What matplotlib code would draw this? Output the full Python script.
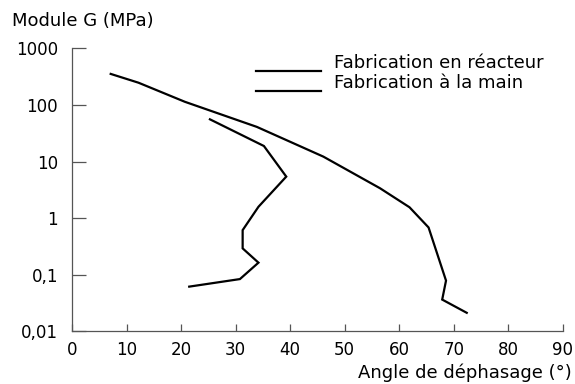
import matplotlib.pyplot as plt
from matplotlib.ticker import FixedLocator, NullLocator

plt.rcParams['font.family'] = ['DejaVu Sans']

# Fabrication en réacteur
reac_angle = [7.1, 12.2, 20.7, 33.9, 46.1, 56.5, 61.9, 65.4, 68.6, 67.9, 72.4]
reac_G = [355, 248, 114, 41, 12.2, 3.36, 1.55, 0.68, 0.078, 0.036, 0.021]

# Fabrication à la main
main_angle = [25.3, 35.2, 39.3, 34.2, 31.3, 31.3, 34.2, 30.8, 21.5]
main_G = [55.8, 18.8, 5.4, 1.58, 0.61, 0.29, 0.162, 0.083, 0.061]

yticks = [0.01, 0.1, 1, 10, 100, 1000]
ytick_labels = ['0,01', '0,1', '1', '10', '100', '1000']
xticks = [0, 10, 20, 30, 40, 50, 60, 70, 80, 90]

fs = 12
fs_txt = 13

fig = plt.figure(figsize=(5.75, 3.84), dpi=100)
ax = fig.add_axes([0.1252, 0.138, 0.8534, 0.7357])

ax.plot(reac_angle, reac_G, color='black', lw=1.6, solid_joinstyle='miter')
ax.plot(main_angle, main_G, color='black', lw=1.6, solid_joinstyle='miter')

ax.set_yscale('log')
ax.set_xlim(0, 90)
ax.set_ylim(0.01, 1000)
ax.yaxis.set_major_locator(FixedLocator(yticks))
ax.yaxis.set_minor_locator(NullLocator())
ax.set_yticklabels(ytick_labels)
ax.set_xticks(xticks)

for s in ['top', 'right']:
    ax.spines[s].set_visible(False)
for s in ['left', 'bottom']:
    ax.spines[s].set_color('#555555')
    ax.spines[s].set_linewidth(0.9)

ax.tick_params(axis='y', direction='in', length=10, width=0.9, color='#555555',
               pad=10, labelsize=fs)
ax.tick_params(axis='x', direction='in', length=5, width=0.9, color='#555555',
               pad=7, labelsize=fs)

# legend drawn by hand: short line on the baseline, text to the right
leg_items = ['Fabrication en réacteur', 'Fabrication à la main']
for i, lab in enumerate(leg_items):
    y = 0.92 - i * 0.07
    ax.plot([0.374, 0.507], [y, y], color='black', lw=1.6,
            transform=ax.transAxes, clip_on=False)
    ax.text(0.534, y - 0.004, lab, transform=ax.transAxes, fontsize=fs_txt,
            ha='left', va='bottom')

fig.text(0.021, 0.945, 'Module G (MPa)', fontsize=fs_txt, ha='left', va='center')
fig.text(0.995, 0.028, 'Angle de déphasage (°)', fontsize=fs_txt, ha='right', va='center')

fig.savefig('out.png', dpi=100)
